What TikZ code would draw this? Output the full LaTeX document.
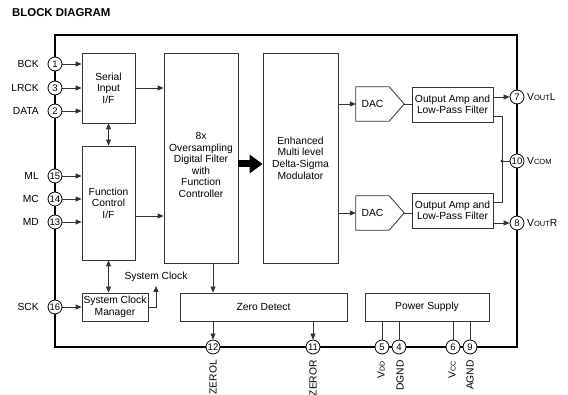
\documentclass[tikz,border=0pt]{standalone}
\usepackage{fontspec}
\setmainfont{Liberation Sans}
\usetikzlibrary{arrows.meta}
\definecolor{ln}{HTML}{333333}
\begin{document}
\begin{tikzpicture}[x=1pt,y=-1pt,
  every node/.style={font=\fontsize{10.3}{11.6}\selectfont, inner sep=1pt},
  blk/.style={draw=ln, rectangle, align=center, line width=0.8pt},
  pin/.style={draw=black, fill=white, circle, minimum size=14pt, inner sep=0pt, line width=0.8pt, font=\fontsize{9.5}{9.5}\selectfont},
  wire/.style={draw=ln, line width=0.8pt},
  arr/.style={wire, -{Triangle[length=6pt,width=5pt]}},
  darr/.style={wire, {Triangle[length=6pt,width=5pt]}-{Triangle[length=6pt,width=5pt]}},
  lbl/.style={inner sep=0pt},
  sm/.style={font=\fontsize{7}{7}\selectfont}
]
\useasboundingbox (0,0) rectangle (568,395);
\node[lbl, anchor=west, font=\bfseries\fontsize{11.4}{13}\selectfont] (title) at (12,13) {BLOCK DIAGRAM};

% outer border
\draw[line width=1.8pt] (55,35) rectangle (517,347);

% blocks
\node[blk, minimum width=53pt, minimum height=70pt] (ser) at (108.5,88) {Serial\\Input\\I/F};
\node[blk, minimum width=53pt, minimum height=114pt] (fc) at (108.5,203) {Function\\Control\\I/F};
\node[blk, minimum width=66pt, minimum height=28pt, inner sep=0pt] (scm) at (115,307) {System Clock\\Manager};
\node[blk, minimum width=74pt, minimum height=210pt] (filt) at (201,158) {};
\node[lbl, align=center] (filtt) at (201,165) {8x\\Oversampling\\Digital Filter\\with\\Function\\Controller};
\node[blk, minimum width=75pt, minimum height=210pt] (mod) at (300.5,158) {Enhanced\\Multi level\\Delta-Sigma\\Modulator};
\node[rectangle, minimum width=33pt, minimum height=34pt] (dacu) at (372.5,104) {DAC};
\node[rectangle, minimum width=33pt, minimum height=34pt] (dacl) at (372.5,213) {DAC};
\coordinate (dacut) at ([xshift=15pt]dacu.east);
\coordinate (daclt) at ([xshift=15pt]dacl.east);
\draw[wire] (dacu.north west) -- (dacu.north east) -- (dacut) -- (dacu.south east) -- (dacu.south west) -- cycle;
\draw[wire] (dacl.north west) -- (dacl.north east) -- (daclt) -- (dacl.south east) -- (dacl.south west) -- cycle;
\node[blk, minimum width=81pt, minimum height=35pt, inner sep=0pt] (ampu) at (452.5,104.5) {Output Amp and\\Low-Pass Filter};
\node[blk, minimum width=81pt, minimum height=35pt, inner sep=0pt] (ampl) at (452.5,210.5) {Output Amp and\\Low-Pass Filter};
\node[blk, minimum width=167pt, minimum height=28pt] (zd) at (263.5,307) {Zero Detect};
\node[blk, minimum width=124pt, minimum height=28pt] (ps) at (427,307) {Power Supply};

% pins
\node[pin] (p1) at (55,64) {1};
\node[pin] (p3) at (55,88) {3};
\node[pin] (p2) at (55,111) {2};
\node[pin] (p15) at (55,176) {15};
\node[pin] (p14) at (55,199) {14};
\node[pin] (p13) at (55,222) {13};
\node[pin] (p16) at (55,307) {16};
\node[pin] (p7) at (517,97) {7};
\node[pin] (p10) at (517,161) {10};
\node[pin] (p8) at (517,223) {8};
\node[pin] (p12) at (213,347) {12};
\node[pin] (p11) at (313,347) {11};
\node[pin] (p5) at (382,347) {5};
\node[pin] (p4) at (399,347) {4};
\node[pin] (p6) at (453,347) {6};
\node[pin] (p9) at (470,347) {9};

% pin labels
\node[lbl, anchor=east] (lbck) at (39,64) {BCK};
\node[lbl, anchor=east] (llrck) at (39,88) {LRCK};
\node[lbl, anchor=east] (ldata) at (39,111) {DATA};
\node[lbl, anchor=east] (lml) at (39,176) {ML};
\node[lbl, anchor=east] (lmc) at (39,199) {MC};
\node[lbl, anchor=east] (lmd) at (39,222) {MD};
\node[lbl, anchor=east] (lsck) at (39,307) {SCK};
\node[lbl, anchor=west] (lvoutl) at (527,97) {V{\fontsize{7.5}{7.5}\selectfont OUT}L};
\node[lbl, anchor=west] (lvcom) at (527,161) {V{\fontsize{7.5}{7.5}\selectfont COM}};
\node[lbl, anchor=west] (lvoutr) at (527,223) {V{\fontsize{7.5}{7.5}\selectfont OUT}R};
\node[lbl, rotate=90, anchor=east] (lzl) at (213,360) {ZEROL};
\node[lbl, rotate=90, anchor=east] (lzr) at (313,360) {ZEROR};
\node[lbl, rotate=90, anchor=east] (lvdd) at (381,361) {V{\fontsize{7}{7}\selectfont DD}};
\node[lbl, rotate=90, anchor=east] (ldgnd) at (400,360) {DGND};
\node[lbl, rotate=90, anchor=east] (lvcc) at (452,361) {V{\fontsize{7}{7}\selectfont CC}};
\node[lbl, rotate=90, anchor=east] (lagnd) at (470,360) {AGND};

% left inputs
\foreach \p in {p1,p3,p2} \draw[arr] (\p.east) -- (\p.east -| ser.west);
\foreach \p in {p15,p14,p13} \draw[arr] (\p.east) -- (\p.east -| fc.west);
\draw[arr] (p16.east) -- (p16.east -| scm.west);

% internal
\draw[darr] (ser.south) -- (fc.north);
\draw[darr] (fc.south) -- (fc.south |- scm.north);
\draw[arr] (ser.east) -- (ser.east -| filt.west);
\coordinate (fco) at ([yshift=-13pt]fc.east);
\draw[arr] (fco) -- (fco -| filt.west);
\coordinate (sct) at (156,286);
\draw[arr] (scm.east) -| (sct);
\node[lbl] (sclk) at (156,277) {System Clock};
\draw[line width=7pt, -{Triangle[length=13pt,width=18pt]}] (filt.east |- 0,164) -- (mod.west |- 0,164);
\draw[arr] (mod.east |- dacu) -- (dacu.west);
\draw[arr] (mod.east |- dacl) -- (dacl.west);
\draw[wire] (dacut) -- (dacut -| ampu.west);
\draw[wire] (daclt) -- (daclt -| ampl.west);
\draw[arr] (ampu.east |- p7) -- (p7.west);
\draw[arr] (ampl.east |- p8) -- (p8.west);
\coordinate (jn) at (502,161);
\coordinate (au2) at ([yshift=-11.5pt]ampu.east);
\coordinate (al2) at ([yshift=8.5pt]ampl.east);
\draw[wire] (au2) -| (jn);
\draw[wire] (al2) -| (jn);
\draw[wire] (jn) -- (p10.west);
\fill[ln] (jn) circle (1.6pt);

\draw[arr] (filt.south -| p12) -- (zd.north -| p12);
\draw[arr] (zd.south -| p12) -- (p12.north);
\draw[arr] (zd.south -| p11) -- (p11.north);
\foreach \p in {p5,p4,p6,p9} \draw[wire] (ps.south -| \p) -- (\p.north);
\end{tikzpicture}
\end{document}
